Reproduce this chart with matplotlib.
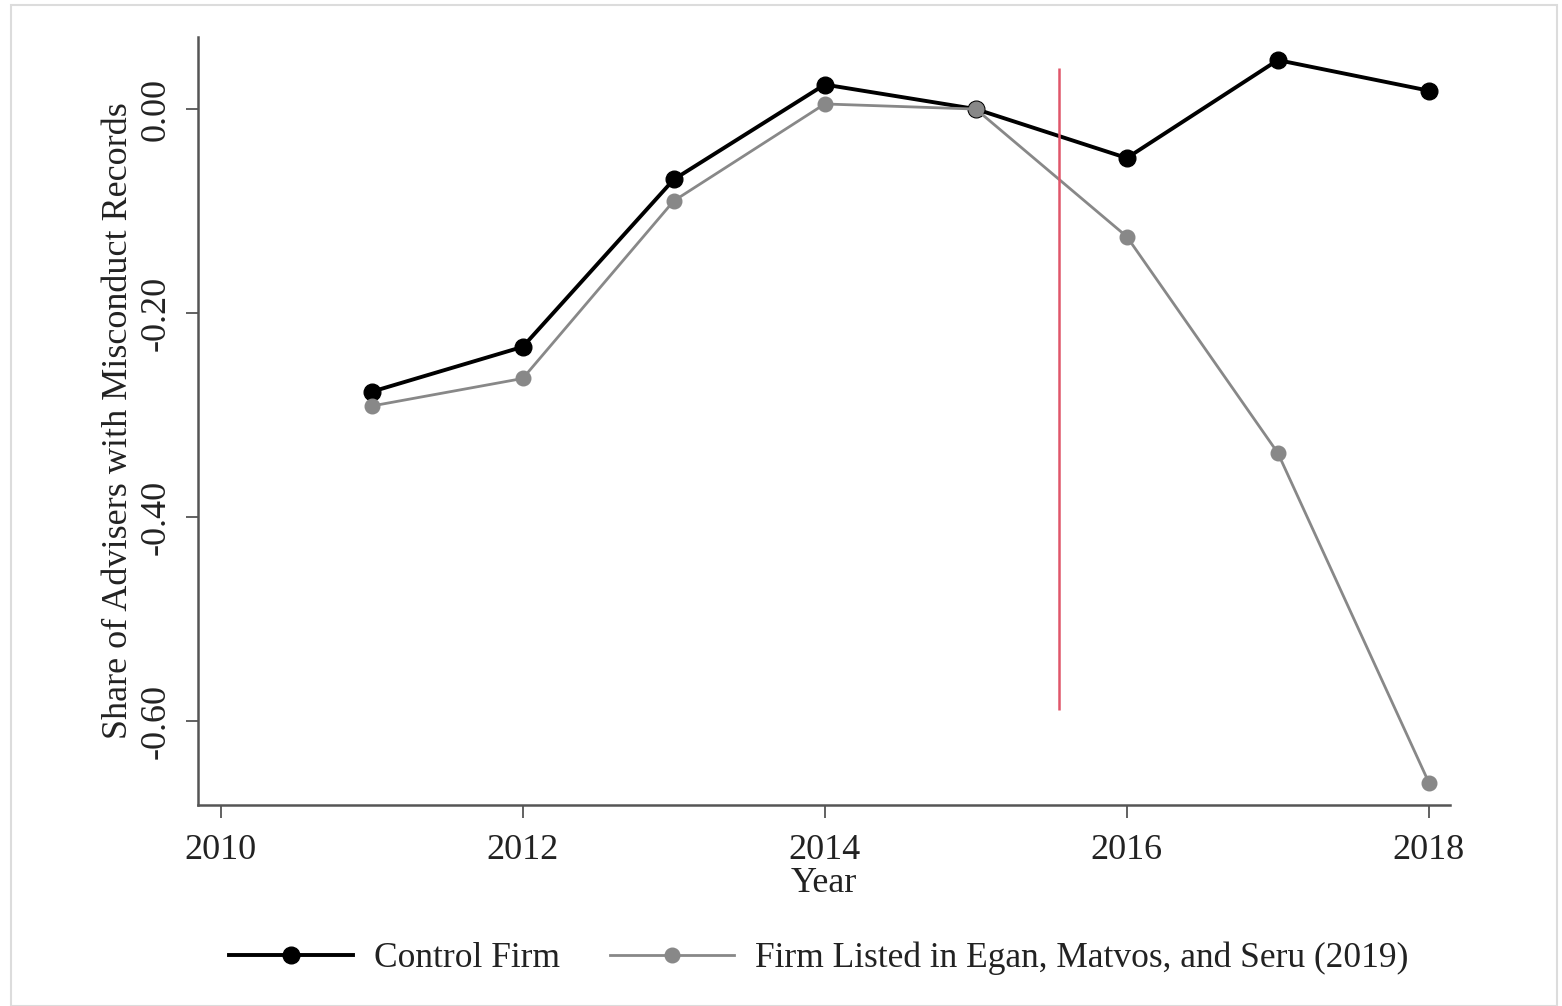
import matplotlib.pyplot as plt
from matplotlib import rc
from matplotlib.patches import Rectangle

years = [2011, 2012, 2013, 2014, 2015, 2016, 2017, 2018]
control = [-0.277, -0.233, -0.069, 0.024, 0.0, -0.048, 0.048, 0.018]
listed = [-0.291, -0.264, -0.090, 0.005, 0.0, -0.125, -0.337, -0.660]
event_x = 2015.55
event_span = [-0.589, 0.040]

rc('font', **{'family': 'serif', 'serif': ['Liberation Serif', 'DejaVu Serif']})

fig = plt.figure(figsize=(15.62, 10.06), dpi=100)
ax = fig.add_axes([0.1268, 0.1998, 0.8015, 0.7634])

## faint frame around the whole graph
fig.patches.append(Rectangle((0.007, 0.0), 0.99, 0.995, transform=fig.transFigure,
                             fill=False, edgecolor="#dcdcdc", linewidth=1.5))

ax.plot(years, control, color="black", linewidth=2.8, marker="o",
        markersize=12, label="Control Firm")
ax.plot(years, listed, color="#888888", linewidth=2.0, marker="o",
        markersize=10.5, label="Firm Listed in Egan, Matvos, and Seru (2019)")
ax.vlines(event_x, event_span[0], event_span[1], color="#e0566a", linewidth=1.8)

ax.set_xlim(2009.85, 2018.14)
ax.set_ylim(-0.682, 0.0706)
ax.set_xticks([2010, 2012, 2014, 2016, 2018])
ax.set_yticks([0.0, -0.2, -0.4, -0.6])
ax.set_yticklabels(["0.00", "-0.20", "-0.40", "-0.60"], rotation=90, va="center")

for side in ["top", "right"]:
    ax.spines[side].set_visible(False)
for side in ["left", "bottom"]:
    ax.spines[side].set_color("#555555")
    ax.spines[side].set_linewidth(1.8)
ax.tick_params(axis="both", direction="out", length=9, width=1.3, color="#555555",
               labelsize=26, labelcolor="#222222")
ax.tick_params(axis="x", pad=12)
ax.tick_params(axis="y", pad=9)

ax.set_xlabel("Year", fontsize=26, color="#222222", labelpad=0)
ax.set_ylabel("Share of Advisers with Misconduct Records", fontsize=26,
              color="#222222", labelpad=4)

fig.legend(loc="center", bbox_to_anchor=(0.524, 0.047), ncol=2, frameon=False,
           fontsize=25.5, handlelength=3.5, columnspacing=1.4, handletextpad=0.6,
           labelcolor="#222222")

fig.savefig("out.png", dpi=100)
